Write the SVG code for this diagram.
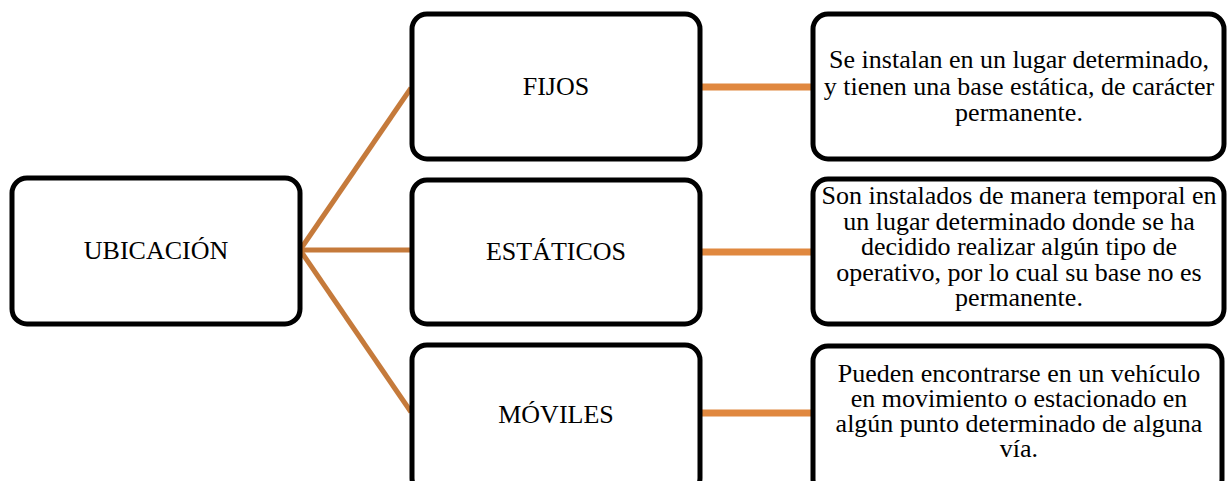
<svg xmlns="http://www.w3.org/2000/svg" width="1227" height="481" viewBox="0 0 1227 481">
<style>
.box{fill:#fff;stroke:#000;stroke-width:5}
.t{font-family:"Liberation Serif","Times New Roman",serif;font-size:26px;fill:#000;text-anchor:middle}
.c1{stroke:#C57A3B;stroke-width:5;fill:none}
.c2{stroke:#E0883F;stroke-width:7;fill:none}
</style>
<rect width="1227" height="481" fill="#fff"/>
<g id="connectors">
<line class="c1" x1="300" y1="250" x2="411" y2="88"/>
<line class="c1" x1="300" y1="250" x2="411" y2="250"/>
<line class="c1" x1="300" y1="250" x2="411" y2="412"/>
<line class="c2" x1="700" y1="87" x2="813" y2="87"/>
<line class="c2" x1="700" y1="252" x2="813" y2="252"/>
<line class="c2" x1="700" y1="413" x2="813" y2="413"/>
</g>
<g id="ubicacion">
<rect class="box" x="12" y="178" width="288" height="146" rx="15"/>
<text class="t" x="156" y="259">UBICACIÓN</text>
</g>
<g id="fijos">
<rect class="box" x="412" y="14" width="288" height="145" rx="15"/>
<text class="t" x="556" y="95">FIJOS</text>
</g>
<g id="estaticos">
<rect class="box" x="412" y="180" width="288" height="144" rx="15"/>
<text class="t" x="556" y="260">ESTÁTICOS</text>
</g>
<g id="moviles">
<rect class="box" x="412" y="345" width="288" height="148" rx="15"/>
<text class="t" x="556" y="423">MÓVILES</text>
</g>
<g id="desc-fijos">
<rect class="box" x="813" y="14" width="411" height="145" rx="15"/>
<text class="t" x="1019" y="68">Se instalan en un lugar determinado,</text>
<text class="t" x="1019" y="95">y tienen una base estática, de carácter</text>
<text class="t" x="1019" y="121">permanente.</text>
</g>
<g id="desc-estaticos">
<rect class="box" x="813" y="179" width="411" height="145" rx="15"/>
<text class="t" x="1019" y="204">Son instalados de manera temporal en</text>
<text class="t" x="1019" y="230">un lugar determinado donde se ha</text>
<text class="t" x="1019" y="255">decidido realizar algún tipo de</text>
<text class="t" x="1019" y="281">operativo, por lo cual su base no es</text>
<text class="t" x="1019" y="306">permanente.</text>
</g>
<g id="desc-moviles">
<rect class="box" x="813" y="346" width="409" height="148" rx="15"/>
<text class="t" x="1019" y="382">Pueden encontrarse en un vehículo</text>
<text class="t" x="1019" y="407">en movimiento o estacionado en</text>
<text class="t" x="1019" y="432">algún punto determinado de alguna</text>
<text class="t" x="1019" y="457">vía.</text>
</g>
</svg>
